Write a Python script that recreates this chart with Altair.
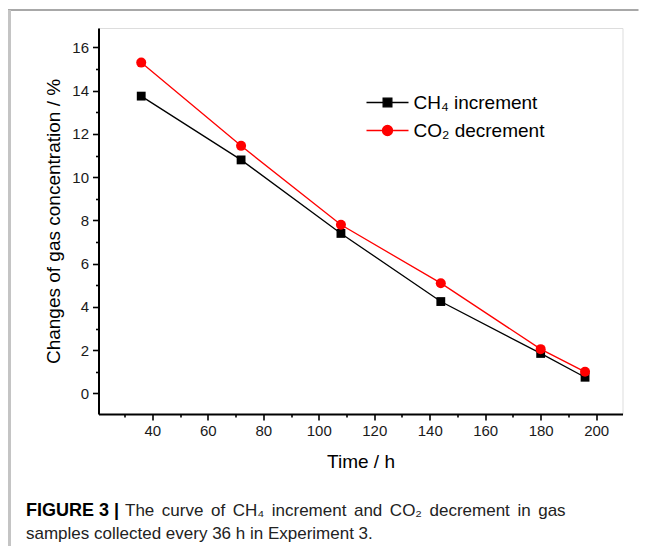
import altair as alt
import pandas as pd

# ---- data ----
hours = [36, 72, 108, 144, 180, 196]
ch4_increment = [13.75, 10.8, 7.4, 4.25, 1.85, 0.75]
co2_decrement = [15.3, 11.45, 7.8, 5.1, 2.05, 1.0]
series_names = ["CH\u2084 increment", "CO\u2082 decrement"]
series_colors = ["#000000", "#ff0000"]
series_shapes = ["square", "circle"]
series_sizes = [78, 100]

x_major = [40, 60, 80, 100, 120, 140, 160, 180, 200]
x_minor = [30, 50, 70, 90, 110, 130, 150, 170, 190]
y_major = [0, 2, 4, 6, 8, 10, 12, 14, 16]
y_minor = [1, 3, 5, 7, 9, 11, 13, 15]

caption_bold = "FIGURE 3 |"
caption_line1 = "The curve of CH\u2084 increment and CO\u2082 decrement in gas"
caption_line2 = "samples collected every 36 h in Experiment 3."

rows = []
for h, a, b in zip(hours, ch4_increment, co2_decrement):
    rows.append({"hour": h, "value": a, "series": series_names[0]})
    rows.append({"hour": h, "value": b, "series": series_names[1]})
df = pd.DataFrame(rows)

W, H = 524, 386
FONT = "Liberation Sans"

x_scale = alt.Scale(domain=[20.6, 209.5], nice=False, zero=False)
y_scale = alt.Scale(domain=[-0.95, 16.9], nice=False, zero=False)
color_scale = alt.Scale(domain=series_names, range=series_colors)

x_axis = alt.Axis(
    orient="bottom", values=x_major, labelOverlap=False,
    tickSize=6, tickWidth=1.6, tickColor="black", domainColor="black", domainWidth=2,
    labelFont=FONT, labelFontSize=15, labelColor="#1a1a1a", labelPadding=3,
    title="Time / h", titleFont=FONT, titleFontSize=19, titleFontWeight="normal",
    titleColor="black", titlePadding=14, grid=False,
)
y_axis = alt.Axis(
    orient="left", values=y_major, labelOverlap=False,
    tickSize=6, tickWidth=1.6, tickColor="black", domainColor="black", domainWidth=2,
    labelFont=FONT, labelFontSize=15, labelColor="#1a1a1a", labelPadding=4,
    title="Changes of gas concentration / %", titleFont=FONT, titleFontSize=19,
    titleFontWeight="normal", titleColor="black", titlePadding=8, grid=False,
)
x_minor_axis = alt.Axis(orient="bottom", values=x_minor, tickSize=3, tickWidth=1.6,
                        tickColor="black", labels=False, domain=False, title=None, grid=False)
y_minor_axis = alt.Axis(orient="left", values=y_minor, tickSize=3, tickWidth=1.6,
                        tickColor="black", labels=False, domain=False, title=None, grid=False)

base = alt.Chart(df)
lines = base.mark_line(strokeWidth=1.3).encode(
    x=alt.X("hour:Q", scale=x_scale, axis=x_axis),
    y=alt.Y("value:Q", scale=y_scale, axis=y_axis),
    color=alt.Color("series:N", scale=color_scale, legend=None),
)
minor = base.transform_filter("false").mark_point().encode(
    x=alt.X("hour:Q", scale=x_scale, axis=x_minor_axis),
    y=alt.Y("value:Q", scale=y_scale, axis=y_minor_axis),
)
points = base.mark_point(filled=True, opacity=1).encode(
    x=alt.X("hour:Q", scale=x_scale, axis=None),
    y=alt.Y("value:Q", scale=y_scale, axis=None),
    color=alt.Color("series:N", scale=color_scale, legend=None),
    shape=alt.Shape("series:N", scale=alt.Scale(domain=series_names, range=series_shapes), legend=None),
    size=alt.Size("series:N", scale=alt.Scale(domain=series_names, range=series_sizes), legend=None),
)

# legend symbols: line - marker - line (stroked legend + filled marker legend per series)
line_paths = [
    "M-4.2,0H-0.87M-0.87,-0.87H0.87V0.87H-0.87ZM0.87,0H4.2",
    "M-4.2,0H-1M1,0H4.2M-1,0A1,1,0,1,0,1,0A1,1,0,1,0,-1,0Z",
]
marker_paths = [
    "M-0.87,-0.87H0.87V0.87H-0.87Z",
    "M-1,0A1,1,0,1,0,1,0A1,1,0,1,0,-1,0Z",
]
legend_layers = []
for i, name in enumerate(series_names):
    for filled, paths in ((False, line_paths), (True, marker_paths)):
        lg = alt.Legend(
            title=None, orient="none", legendX=279.5, legendY=65 + 28 * i, padding=0,
            labelFont=FONT, labelFontSize=19, labelColor="black", labelOffset=16.5,
            labelOpacity=0 if filled else 1,
            symbolSize=100, symbolStrokeWidth=1.3, symbolOpacity=1,
        )
        legend_layers.append(
            base.transform_filter("false").mark_point(
                filled=filled, color=series_colors[i], opacity=1, strokeWidth=1.3
            ).encode(
                x=alt.X("hour:Q", scale=x_scale, axis=None),
                y=alt.Y("value:Q", scale=y_scale, axis=None),
                shape=alt.Shape("series:N", scale=alt.Scale(domain=[name], range=[paths[i]]), legend=lg),
            )
        )

one = pd.DataFrame({"k": [0]})
frame_top = alt.Chart(one).mark_rule(color="#a8a8a8", strokeWidth=2).encode(
    x=alt.value(-90.5), x2=alt.value(W + 16), y=alt.value(-18))
frame_left = alt.Chart(one).mark_rule(color="#c4c4c4", strokeWidth=3).encode(
    x=alt.value(-89), y=alt.value(-18), y2=alt.value(H + 140))

# line 1 of the caption is justified in the reference: widen its word spaces a little
line1_justified = caption_line1.replace(" ", " \u2006")
cap_bold = alt.Chart(one).mark_text(
    text=caption_bold, font=FONT, fontSize=18, fontWeight="bold", align="left",
    baseline="alphabetic", color="black").encode(x=alt.value(-72.5), y=alt.value(488))
cap_l1 = alt.Chart(one).mark_text(
    text=line1_justified, font=FONT, fontSize=17, align="left",
    baseline="alphabetic", color="#222").encode(x=alt.value(26.5), y=alt.value(488))
cap_l2 = alt.Chart(one).mark_text(
    text=caption_line2, font=FONT, fontSize=17, align="left",
    baseline="alphabetic", color="#222").encode(x=alt.value(-72.5), y=alt.value(511))

chart = alt.layer(lines, minor, points, *legend_layers, frame_top, frame_left,
                  cap_bold, cap_l1, cap_l2).resolve_scale(
    shape="independent"
).resolve_axis(
    x="independent", y="independent"
).properties(
    width=W, height=H,
    autosize=alt.AutoSizeParams(type="none"),
    padding={"left": 90.5, "top": 20, "right": 16, "bottom": 132},
).configure_view(stroke="black", strokeWidth=2).configure(background="white")

chart.save("out.html", embed_options={"renderer": "svg", "actions": False})
